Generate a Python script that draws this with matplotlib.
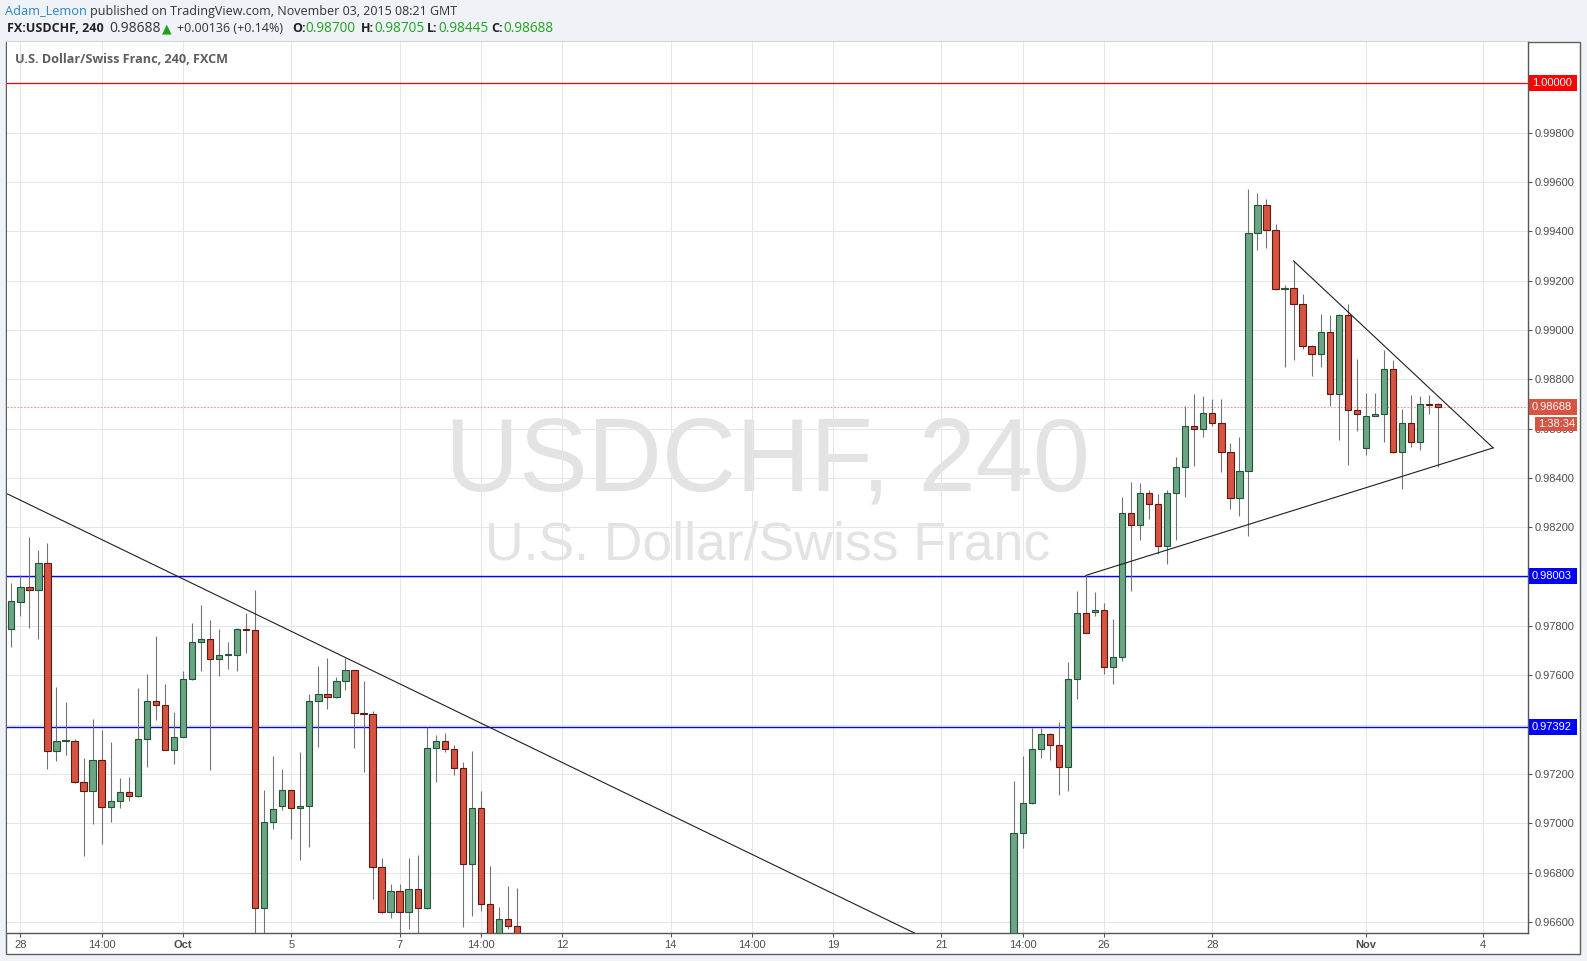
#! /usr/bin/env python3

import matplotlib
matplotlib.use("Agg")
import matplotlib.pyplot as plt
from matplotlib.patches import Rectangle
from matplotlib.transforms import blended_transform_factory

# 4h bars, indexed on the chart's time scale (bars 57..110 trade below the visible range)
bar_idx = list(range(0, 57)) + list(range(111, 159))

opens = [0.97786, 0.97899, 0.97956, 0.97944, 0.98054, 0.97292, 0.97335, 0.97335, 0.97169, 0.97132,
         0.97255, 0.97068, 0.97091, 0.97128, 0.97112, 0.97343, 0.97497, 0.97481, 0.97298, 0.97351,
         0.97583, 0.97737, 0.97747, 0.97668, 0.97684, 0.97684, 0.97786, 0.97782, 0.96657, 0.97006,
         0.97070, 0.97134, 0.97061, 0.97069, 0.97497, 0.97524, 0.97512, 0.97577, 0.97621, 0.97447,
         0.97443, 0.96823, 0.96639, 0.96724, 0.96639, 0.96732, 0.96655, 0.97305, 0.97333, 0.97300,
         0.97223, 0.96834, 0.97061, 0.96671, 0.96540, 0.96614, 0.96582,
         0.96500, 0.96962, 0.97083, 0.97303, 0.97364, 0.97318, 0.97228, 0.97586, 0.97852, 0.97856,
         0.97865, 0.97633, 0.97675, 0.98258, 0.98209, 0.98338, 0.98295, 0.98124, 0.98338, 0.98444,
         0.98610, 0.98599, 0.98664, 0.98623, 0.98507, 0.98319, 0.98430, 0.99395, 0.99508, 0.99407,
         0.99165, 0.99172, 0.99107, 0.98936, 0.98904, 0.98993, 0.98742, 0.99059, 0.98674, 0.98523,
         0.98653, 0.98661, 0.98843, 0.98505, 0.98624, 0.98546, 0.98701, 0.98700]
highs = [0.97975, 0.98006, 0.98162, 0.98108, 0.98136, 0.97553, 0.97491, 0.97340, 0.97263, 0.97422,
         0.97377, 0.97328, 0.97182, 0.97186, 0.97548, 0.97604, 0.97759, 0.97564, 0.97450, 0.97617,
         0.97812, 0.97885, 0.97825, 0.97789, 0.97734, 0.97793, 0.97852, 0.97946, 0.97133, 0.97271,
         0.97221, 0.97136, 0.97290, 0.97524, 0.97639, 0.97671, 0.97592, 0.97671, 0.97623, 0.97578,
         0.97456, 0.96861, 0.96755, 0.96755, 0.96861, 0.96871, 0.97391, 0.97359, 0.97367, 0.97318,
         0.97248, 0.97294, 0.97131, 0.96827, 0.96660, 0.96746, 0.96736,
         0.97173, 0.97272, 0.97386, 0.97386, 0.97368, 0.97412, 0.97654, 0.97943, 0.98005, 0.97939,
         0.97894, 0.97830, 0.98324, 0.98384, 0.98380, 0.98353, 0.98337, 0.98353, 0.98487, 0.98693,
         0.98739, 0.98733, 0.98719, 0.98719, 0.98541, 0.98567, 0.99570, 0.99557, 0.99532, 0.99431,
         0.99184, 0.99278, 0.99147, 0.98938, 0.99064, 0.99061, 0.99066, 0.99104, 0.98881, 0.98745,
         0.98745, 0.98918, 0.98880, 0.98678, 0.98735, 0.98731, 0.98735, 0.98705]
lows = [0.97715, 0.97840, 0.97793, 0.97748, 0.97221, 0.97252, 0.97277, 0.97165, 0.96868, 0.96997,
        0.96917, 0.97005, 0.97063, 0.97090, 0.97106, 0.97228, 0.97418, 0.97296, 0.97240, 0.97349,
        0.97580, 0.97618, 0.97217, 0.97598, 0.97626, 0.97618, 0.97691, 0.96540, 0.96540, 0.96976,
        0.97053, 0.96938, 0.96852, 0.96905, 0.97311, 0.97462, 0.97510, 0.97539, 0.97307, 0.97210,
        0.96694, 0.96636, 0.96617, 0.96540, 0.96572, 0.96540, 0.96651, 0.97169, 0.97291, 0.97194,
        0.96580, 0.96626, 0.96644, 0.96500, 0.96500, 0.96572, 0.96500,
        0.96480, 0.96901, 0.97080, 0.97266, 0.97257, 0.97115, 0.97130, 0.97503, 0.97770, 0.97839,
        0.97607, 0.97564, 0.97658, 0.97940, 0.98150, 0.98232, 0.98092, 0.98050, 0.98147, 0.98321,
        0.98447, 0.98565, 0.98609, 0.98425, 0.98273, 0.98244, 0.98165, 0.99326, 0.99332, 0.99163,
        0.98850, 0.98880, 0.98924, 0.98814, 0.98850, 0.98691, 0.98555, 0.98454, 0.98591, 0.98495,
        0.98651, 0.98546, 0.98503, 0.98354, 0.98526, 0.98512, 0.98658, 0.98445]
closes = [0.97901, 0.97956, 0.97944, 0.98054, 0.97292, 0.97335, 0.97337, 0.97169, 0.97132, 0.97255,
          0.97068, 0.97091, 0.97128, 0.97112, 0.97343, 0.97497, 0.97481, 0.97298, 0.97351, 0.97583,
          0.97737, 0.97747, 0.97668, 0.97684, 0.97685, 0.97786, 0.97782, 0.96657, 0.97006, 0.97060,
          0.97134, 0.97061, 0.97069, 0.97497, 0.97524, 0.97512, 0.97577, 0.97621, 0.97447, 0.97443,
          0.96823, 0.96639, 0.96724, 0.96639, 0.96732, 0.96655, 0.97305, 0.97333, 0.97300, 0.97223,
          0.96834, 0.97061, 0.96671, 0.96540, 0.96614, 0.96582, 0.96540,
          0.96962, 0.97083, 0.97303, 0.97364, 0.97318, 0.97228, 0.97586, 0.97852, 0.97772, 0.97865,
          0.97633, 0.97675, 0.98258, 0.98209, 0.98338, 0.98295, 0.98124, 0.98338, 0.98444, 0.98610,
          0.98599, 0.98664, 0.98623, 0.98507, 0.98319, 0.98428, 0.99395, 0.99508, 0.99407, 0.99165,
          0.99172, 0.99107, 0.98936, 0.98904, 0.98993, 0.98742, 0.99059, 0.98674, 0.98661, 0.98653,
          0.98661, 0.98843, 0.98505, 0.98624, 0.98546, 0.98701, 0.98696, 0.98688]

x_tick_pos = [1, 10, 19, 31, 43, 52, 61, 73, 82, 91, 103, 112, 121, 133, 150, 163]
x_tick_labels = ["28", "14:00", "Oct", "5", "7", "14:00", "12", "14", "14:00",
                 "19", "21", "14:00", "26", "28", "Nov", "4"]
y_ticks = [0.966, 0.968, 0.970, 0.972, 0.974, 0.976, 0.978, 0.980, 0.982,
           0.984, 0.986, 0.988, 0.990, 0.992, 0.994, 0.996, 0.998]

red_level = 1.00000
blue_levels = [0.98003, 0.97392]
last_price = 0.98688
countdown = "1:38:34"

# drawn trend lines (bar index, price)
down_trend = [(5.51, 0.98230), (58.55, 0.97290)]
tri_lower = [(119, 0.98005), (164.1, 0.98522)]
tri_upper = [(142, 0.99280), (164.1, 0.98522)]

W, H = 1587, 961
PANE_L, PANE_R, PANE_T, PANE_B = 7, 1528, 42, 933
X_MIN, X_MAX = -0.48, 167.96
Y_MIN, Y_MAX = 0.965553, 1.001674

UP, UP_EDGE = "#6ba583", "#225437"
DOWN, DOWN_EDGE = "#d75442", "#5b1a13"
WICK = "#737375"
AXIS_TXT = "#4c4c4c"
HEAD_FONT = ["Open Sans", "DejaVu Sans"]

plt.rcParams["font.family"] = ["Liberation Sans", "DejaVu Sans"]


def fpos(x, y):
    return x / W, 1 - y / H


def price_tag(ax, price, text, color, x0=1529, x1=1577, h_px=16, dy_px=0):
    tr = blended_transform_factory(ax.transAxes, ax.transData)
    per_px = (Y_MAX - Y_MIN) / (PANE_B - PANE_T)
    yc = price - dy_px * per_px
    ax0 = (x0 - PANE_L) / (PANE_R - PANE_L)
    aw = (x1 - x0) / (PANE_R - PANE_L)
    ax.add_patch(Rectangle((ax0, yc - h_px / 2 * per_px), aw, h_px * per_px, transform=tr,
                           facecolor=color, edgecolor="none", clip_on=False, zorder=10))
    ax.text(ax0 + 3 / (PANE_R - PANE_L), yc, text, transform=tr, color="white", fontsize=8,
            ha="left", va="center", clip_on=False, zorder=11)


def main():
    fig = plt.figure(figsize=(W / 100, H / 100), dpi=100, facecolor="#eff2f6")
    fig.patches.append(Rectangle(fpos(5.5, 954), (1580 - 5.5) / W, (954 - 42) / H,
                                 transform=fig.transFigure, facecolor="white",
                                 edgecolor="#5f5f5f", linewidth=1, zorder=-5))

    ax = fig.add_axes([PANE_L / W, (H - PANE_B) / H, (PANE_R - PANE_L) / W, (PANE_B - PANE_T) / H])
    ax.set_zorder(1)
    ax.set_facecolor("white")
    ax.set_xlim(X_MIN, X_MAX)
    ax.set_ylim(Y_MIN, Y_MAX)

    ## watermark, under the grid
    ax.text(0.5, (PANE_B - 490.7) / (PANE_B - PANE_T), "USDCHF, 240", transform=ax.transAxes,
            ha="center", va="baseline", fontsize=74, color="#e3e3e3", zorder=0.2)
    ax.text(0.5, (PANE_B - 559.3) / (PANE_B - PANE_T), "U.S. Dollar/Swiss Franc", transform=ax.transAxes,
            ha="center", va="baseline", fontsize=38.5, color="#e3e3e3", zorder=0.2)

    ##
    ax.axhline(red_level, color="#ff0000", linewidth=0.9, zorder=3)
    for lvl in blue_levels:
        ax.axhline(lvl, color="#0000ff", linewidth=1.0, zorder=3)
    ax.axhline(last_price, color="#e89a8f", linewidth=0.8, linestyle=(0, (1.5, 1.5)), zorder=3)

    ##
    colors = [UP if c >= o else DOWN for o, c in zip(opens, closes)]
    edges = [UP_EDGE if c >= o else DOWN_EDGE for o, c in zip(opens, closes)]
    bottoms = [min(o, c) for o, c in zip(opens, closes)]
    heights = [max(abs(c - o), 0.00004) for o, c in zip(opens, closes)]
    ax.vlines(bar_idx, lows, highs, color=WICK, linewidth=0.8, zorder=4)
    ax.bar(bar_idx, heights, bottom=bottoms, width=0.7, color=colors, edgecolor=edges,
           linewidth=0.8, zorder=5)

    ##
    ax.axline(down_trend[0], down_trend[1], color="#1e1e1e", linewidth=0.8, zorder=6)
    for seg in (tri_lower, tri_upper):
        ax.plot([p[0] for p in seg], [p[1] for p in seg], color="#1e1e1e", linewidth=0.8, zorder=6)

    ##
    ax.set_xticks(x_tick_pos)
    ax.set_xticklabels(x_tick_labels)
    for lab in ax.get_xticklabels():
        if lab.get_text() in ("Oct", "Nov"):
            lab.set_fontweight("bold")
    ax.set_yticks(y_ticks)
    ax.set_yticklabels(["%.5f" % v for v in y_ticks])
    ax.yaxis.tick_right()
    ax.tick_params(axis="both", direction="out", length=3, width=0.75, color="#555555",
                   labelsize=8, labelcolor=AXIS_TXT)
    ax.tick_params(axis="y", pad=1.5)
    ax.tick_params(axis="x", pad=2)
    ax.grid(True, color="#e6e6e6", linewidth=0.75, zorder=0.5)
    ax.set_axisbelow(True)
    for side in ("top", "left"):
        ax.spines[side].set_visible(False)
    for side in ("right", "bottom"):
        ax.spines[side].set_color("#555555")
        ax.spines[side].set_linewidth(1)

    ##
    price_tag(ax, red_level, "%.5f" % red_level, "#ff0000")
    for lvl in blue_levels:
        price_tag(ax, lvl, "%.5f" % lvl, "#0000ff")
    price_tag(ax, last_price, "%.5f" % last_price, DOWN)
    price_tag(ax, last_price, countdown, DOWN, x0=1535, h_px=14, dy_px=17)

    ## header
    fig.text(*fpos(15, 59.5), "U.S. Dollar/Swiss Franc, 240, FXCM", fontsize=9.1, family=HEAD_FONT,
             fontweight="bold", color="#5e5e5e", va="center")

    fig.text(*fpos(5, 11), "Adam_Lemon", color="#2a86c8", fontsize=9.2, va="center", family=HEAD_FONT)
    fig.text(*fpos(90, 11), "published on TradingView.com, November 03, 2015 08:21 GMT",
             color="#333333", fontsize=9, va="center", family=HEAD_FONT)

    green = "#21a121"
    fig.text(*fpos(7, 28.5), "FX:USDCHF, 240", color="#222222", fontsize=9,
             fontweight="bold", va="center", family=HEAD_FONT)
    fig.text(*fpos(109, 28.5), "%.5f" % last_price, color="#333333", fontsize=10, va="center",
             family=HEAD_FONT)
    fig.text(*fpos(162, 28.5), "\u25b2", color=green, fontsize=9, va="center", family="DejaVu Sans")
    fig.text(*fpos(177, 28.5), "+0.00136 (+0.14%)", color="#333333", fontsize=9, va="center",
             family=HEAD_FONT)
    for x_lab, lab, x_val, val in [(292, "O:", 305, "0.98700"), (361, "H:", 374, "0.98705"),
                                   (427, "L:", 438, "0.98445"), (491, "C:", 503, "0.98688")]:
        fig.text(*fpos(x_lab, 28.5), lab, color="#222222", fontsize=9, fontweight="bold",
                 va="center", family=HEAD_FONT)
        fig.text(*fpos(x_val, 28.5), val, color=green, fontsize=9.8, va="center", family=HEAD_FONT)

    fig.savefig("out.png", dpi=100, facecolor=fig.get_facecolor())


if __name__ == "__main__":
    main()
